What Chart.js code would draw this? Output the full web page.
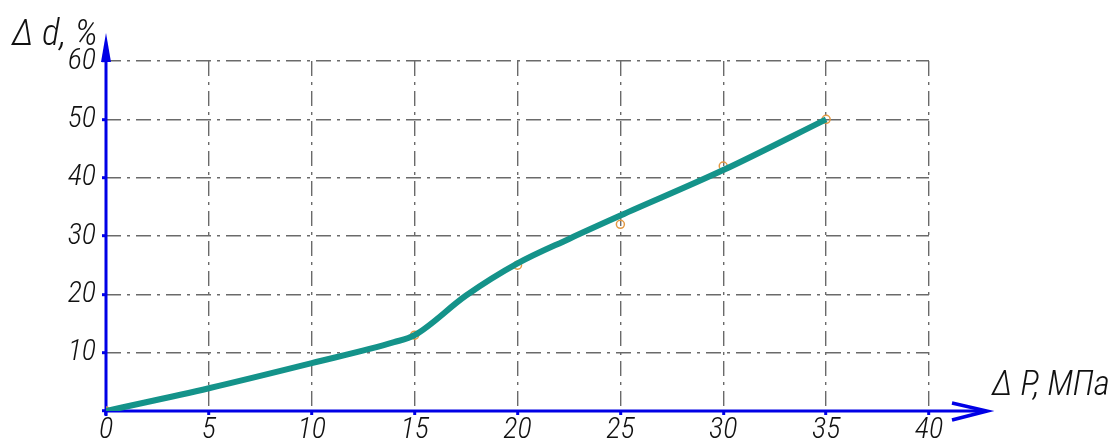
<!DOCTYPE html>
<html>
<head>
<meta charset="utf-8">
<script src="https://cdn.jsdelivr.net/npm/chart.js@4.4.1/dist/chart.umd.min.js"></script>
<style>
  html, body { margin: 0; padding: 0; background: #ffffff; }
  #wrap { width: 1112px; height: 441px; }
</style>
</head>
<body>
<div id="wrap"><canvas id="c" width="1112" height="441"></canvas></div>
<script>
// Pressure drop ΔP (MPa) vs relative change Δd (%)
const measuredP = [0, 15, 20, 25, 30, 35];
const measuredD = [0, 13, 25, 32, 42, 50];

// Smoothed trend curve
const curveP = [0, 5, 10, 14, 15, 17.5, 20, 22.5, 25, 30, 35];
const curveD = [0, 3.9, 8.2, 11.8, 13, 19.8, 25.3, 29.5, 33.5, 41.3, 50];

const xTicks = [0, 5, 10, 15, 20, 25, 30, 35, 40];
const yTicks = [0, 10, 20, 30, 40, 50, 60];

const xTitle = 'Δ P, МПа';
const yTitle = 'Δ d, %';

const FONT = "'Roboto Condensed', 'Liberation Sans Narrow', 'DejaVu Sans Condensed', sans-serif";
const AXIS_BLUE = '#0000e6';
const GRID_GREY = '#6a6a6a';

const axesPlugin = {
  id: 'arrowAxes',
  beforeDatasetsDraw(chart) {
    const ctx = chart.ctx;
    const xs = chart.scales.x, ys = chart.scales.y;
    const ox = xs.getPixelForValue(0), oy = ys.getPixelForValue(0);
    const top = ys.getPixelForValue(60);
    ctx.save();
    ctx.strokeStyle = AXIS_BLUE;
    ctx.fillStyle = AXIS_BLUE;
    ctx.lineWidth = 3;
    ctx.lineCap = 'butt';
    // vertical axis with filled arrowhead
    ctx.beginPath();
    ctx.moveTo(ox, oy + 5);
    ctx.lineTo(ox, top - 2);
    ctx.stroke();
    ctx.beginPath();
    ctx.moveTo(ox, top - 28);
    ctx.lineTo(ox - 5, top + 1);
    ctx.lineTo(ox + 5, top + 1);
    ctx.closePath();
    ctx.fill();
    // horizontal axis with open arrowhead
    const tipX = xs.right + 58;
    ctx.beginPath();
    ctx.moveTo(ox - 1, oy);
    ctx.lineTo(tipX - 2, oy);
    ctx.stroke();
    ctx.lineWidth = 3.5;
    ctx.lineJoin = 'miter';
    ctx.beginPath();
    ctx.moveTo(tipX - 35, oy - 8);
    ctx.lineTo(tipX, oy);
    ctx.lineTo(tipX - 35, oy + 9);
    ctx.stroke();
    ctx.restore();
  },
  afterDraw(chart) {
    const ctx = chart.ctx;
    const xs = chart.scales.x;
    ctx.save();
    ctx.fillStyle = '#111111';
    ctx.textBaseline = 'alphabetic';
    ctx.textAlign = 'left';
    ctx.font = 'italic 300 37px ' + FONT;
    ctx.fillText(yTitle, 12, 45);
    ctx.font = 'italic 300 35px ' + FONT;
    ctx.fillText(xTitle, xs.right + 63, 395);
    ctx.restore();
  }
};

const gridCommon = {
  color: GRID_GREY,
  lineWidth: 1.4,
  drawTicks: true,
  tickLength: 4,
  tickColor: AXIS_BLUE,
  tickWidth: 3
};

const tickFont = { family: FONT, size: 30, style: 'italic', weight: 300 };

new Chart(document.getElementById('c'), {
  type: 'scatter',
  data: {
    datasets: [
      {
        label: 'curve',
        type: 'line',
        data: curveP.map((p, i) => ({ x: p, y: curveD[i] })),
        borderColor: '#14938a',
        borderWidth: 6,
        pointRadius: 0,
        cubicInterpolationMode: 'monotone',
        fill: false,
        order: 1
      },
      {
        label: 'measured',
        data: measuredP.map((p, i) => ({ x: p, y: measuredD[i] })),
        borderColor: '#e39a45',
        backgroundColor: 'rgba(0,0,0,0)',
        borderWidth: 1.5,
        pointRadius: 4,
        order: 2
      }
    ]
  },
  options: {
    responsive: false,
    animation: false,
    devicePixelRatio: 1,
    layout: { padding: { left: 0, top: 61, right: 183, bottom: 0 } },
    plugins: { legend: { display: false }, tooltip: { enabled: false } },
    scales: {
      x: {
        type: 'linear',
        min: 0, max: 40,
        afterBuildTicks: s => { s.ticks = xTicks.map(v => ({ value: v })); },
        afterFit: s => { s.height = 30; },
        grid: gridCommon,
        border: { display: false, dash: [15, 6, 3, 6] },
        ticks: {
          padding: -3,
          color: '#111111',
          font: tickFont,
          maxRotation: 0
        }
      },
      y: {
        type: 'linear',
        min: 0, max: 60,
        afterBuildTicks: s => { s.ticks = yTicks.map(v => ({ value: v })); },
        afterFit: s => { s.width = 106; },
        grid: gridCommon,
        border: { display: false, dash: [15, 6, 3, 6] },
        ticks: {
          padding: 6,
          color: '#111111',
          font: tickFont,
          callback: v => (v === 0 ? '' : String(v))
        }
      }
    }
  },
  plugins: [axesPlugin]
});
</script>
</body>
</html>
